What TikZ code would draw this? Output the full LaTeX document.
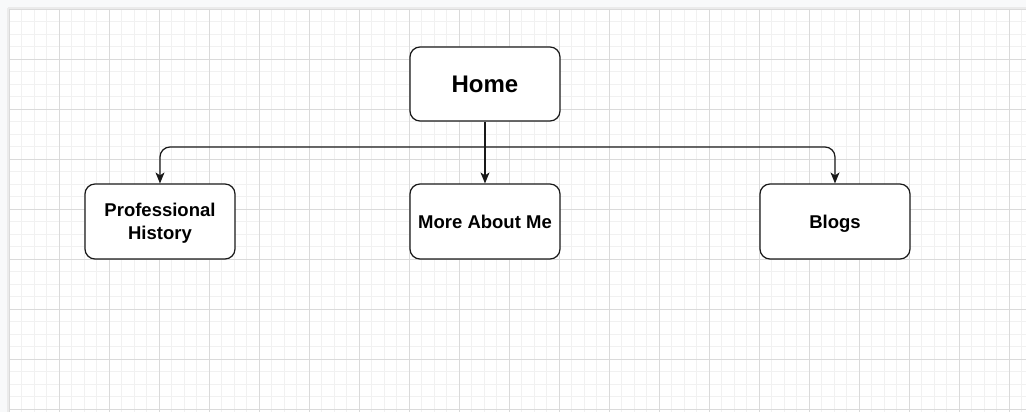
\documentclass[tikz,border=0pt]{standalone}
\usepackage{fontspec}
\setmainfont{Liberation Sans}
\usepackage{tikz}
\usetikzlibrary{arrows.meta, positioning, calc}

\begin{document}
\begin{tikzpicture}[x=1pt, y=-1pt,
  pagebox/.style={draw=black!90, fill=white, line width=1.2pt, rounded corners=10pt,
    minimum width=150pt, minimum height=75pt, align=center, inner sep=2pt, text depth=0pt},
  link/.style={line width=1.2pt, draw=black!90, rounded corners=10pt,
    -{Stealth[length=11pt, width=9pt, inset=3pt]}}]
% --- CORES DO FUNDO E DA GRADE ---
\definecolor{fundo}{HTML}{F8F9FA}
\definecolor{gradeF}{HTML}{F1F1F1}
\definecolor{gradeG}{HTML}{DADADA}

% LAYER 1: Fundo e area de desenho
\useasboundingbox (0,0) rectangle (1026,412);
\fill[fundo] (0,0) rectangle (1026,412);
\draw[black!8, line width=1.5pt] (8.2,8.2) -- (8.2,412);
\draw[black!8, line width=1.5pt] (8.2,8.2) -- (1026,8.2);
\fill[white] (9,9) rectangle (1026,412);

% LAYER 2: Grade (fina e grossa)
\foreach \k in {0,...,81} {
  \draw[gradeF, line width=0.8pt] ({9+12.5*\k},9) -- ({9+12.5*\k},412);
}
\foreach \k in {0,...,32} {
  \draw[gradeF, line width=0.8pt] (9,{9+12.5*\k}) -- (1026,{9+12.5*\k});
}
\foreach \k in {0,...,20} {
  \draw[gradeG, line width=0.9pt] ({9+50*\k},9) -- ({9+50*\k},412);
}
\foreach \k in {0,...,8} {
  \draw[gradeG, line width=0.9pt] (9,{9+50*\k}) -- (1026,{9+50*\k});
}

% LAYER 3: Paginas
\node[pagebox, minimum height=74pt, font=\fontsize{24}{28}\selectfont\bfseries] (home) at (485,84) {Home};
\node[pagebox, font=\fontsize{18.5}{23}\selectfont\bfseries] (hist) at (160,221.5) {Professional\\History};
\node[pagebox, font=\fontsize{18.5}{23}\selectfont\bfseries] (about) at (485,221.5) {More About Me};
\node[pagebox, font=\fontsize{18.5}{23}\selectfont\bfseries] (blogs) at (835,221.5) {Blogs};

% LAYER 4: Ligacoes
\coordinate (split) at (485,147);
\draw[link] (home.south) -- (about.north);
\draw[link] (split) -| (hist.north);
\draw[link] (split) -| (blogs.north);
\end{tikzpicture}
\end{document}
